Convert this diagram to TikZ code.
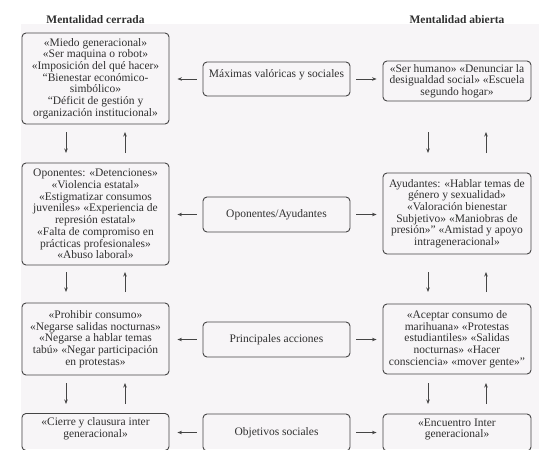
\documentclass[tikz,border=0pt]{standalone}
\usepackage{fontspec}
\setmainfont{Liberation Serif}
\usetikzlibrary{arrows.meta}
\definecolor{boxc}{HTML}{454545}
\definecolor{txtc}{HTML}{303030}
\definecolor{bgc}{HTML}{F7F5F7}
\begin{document}
\begin{tikzpicture}[x=1pt,y=-1pt,
  cbox/.style={draw=boxc, line width=0.9pt, rounded corners=4pt, align=center,
    inner sep=0pt, text=txtc, font=\fontsize{11.5}{11.7}\selectfont},
  colw/.style={minimum width=147pt},
  ttl/.style={text=txtc, font=\fontsize{11.5}{11.7}\selectfont\bfseries},
  arr/.style={draw=boxc, line width=1pt, -{Stealth[length=4.5pt,width=3.5pt]}}]
\useasboundingbox (0,0) rectangle (539,463);
\fill[white] (0,0) rectangle (539,463);
\fill[bgc] (21,24) rectangle (539,449);
\begin{scope}
\clip (0,0) rectangle (539,449);
% titles
\node[ttl] (tl) at (95.5,20) {Mentalidad cerrada};
\node[ttl] (tr) at (457,20) {Mentalidad abierta};
% left column
\node[cbox, colw, minimum height=91pt] (l1) at (95.5,78.5) {«Miedo generacional»\\«Ser maquina o robot»\\«Imposición del qué hacer»\\“Bienestar económico-\\simbólico»\\“Déficit de gestión y\\organización institucional»};
\node[cbox, colw, minimum height=102pt] (l2) at (95.5,214) {Oponentes: «Detenciones»\\«Violencia estatal»\\«Estigmatizar consumos\\juveniles» «Experiencia de\\represión estatal»\\«Falta de compromiso en\\prácticas profesionales»\\«Abuso laboral»};
\node[cbox, colw, minimum height=72pt] (l3) at (95.5,339) {«Prohibir consumo»\\«Negarse salidas nocturnas»\\«Negarse a hablar temas\\tabú» «Negar participación\\en protestas»};
\node[cbox, colw, minimum height=37pt] (l4) at (95.5,432) {«Cierre y clausura inter\\generacional»\\[-3pt]\mbox{}};
% middle column
\node[cbox, colw, minimum height=34pt] (m1) at (276.5,79) {Máximas valóricas y sociales\\\mbox{}};
\node[cbox, colw, minimum height=35pt] (m2) at (276.5,214.5) {Oponentes/Ayudantes};
\node[cbox, colw, minimum height=35pt] (m3) at (276.5,339.5) {Principales acciones};
\node[cbox, colw, minimum height=37pt] (m4) at (276.5,432.5) {Objetivos sociales};
% right column
\node[cbox, minimum width=148pt, minimum height=40pt] (r1) at (457,81) {«Ser humano» «Denunciar la\\desigualdad social» «Escuela\\segundo hogar»};
\node[cbox, minimum width=148pt, minimum height=81pt] (r2) at (457,213.5) {Ayudantes: «Hablar temas de\\género y sexualidad»\\«Valoración bienestar\\Subjetivo» «Maniobras de\\presión»” «Amistad y apoyo\\intrageneracional»};
\node[cbox, minimum width=148pt, minimum height=70pt] (r3) at (457,339) {«Aceptar consumo de\\marihuana» «Protestas\\estudiantiles» «Salidas\\nocturnas» «Hacer\\consciencia» «mover gente»”};
\node[cbox, minimum width=148pt, minimum height=37pt] (r4) at (457,432.5) {«Encuentro Inter\\generacional»\\[-3pt]\mbox{}};
% horizontal arrows
\foreach \m/\l/\r in {m1/l1/r1, m2/l2/r2, m3/l3/r3, m4/l4/r4}{
  \draw[arr, shorten <=6pt, shorten >=8pt] (\m.west) -- (\m.west -| \l.east);
  \draw[arr, shorten <=6pt, shorten >=6pt] (\m.east) -- (\m.east -| \r.west);
}
% vertical arrow coordinates
\foreach \i/\ya/\yb in {1/132/153, 2/272/292, 3/383/404}{
  \coordinate (ldA\i) at (66,\ya);  \coordinate (ldB\i) at (66,\yb);
  \coordinate (luA\i) at (125,\yb); \coordinate (luB\i) at (125,\ya);
  \coordinate (rdA\i) at (428,\ya); \coordinate (rdB\i) at (428,\yb);
  \coordinate (ruA\i) at (486,\yb); \coordinate (ruB\i) at (486,\ya);
}
\foreach \i in {1,2,3}{
  \draw[arr] (ldA\i) -- (ldB\i);
  \draw[arr] (luA\i) -- (luB\i);
  \draw[arr] (rdA\i) -- (rdB\i);
  \draw[arr] (ruA\i) -- (ruB\i);
}
\end{scope}
\end{tikzpicture}
\end{document}
